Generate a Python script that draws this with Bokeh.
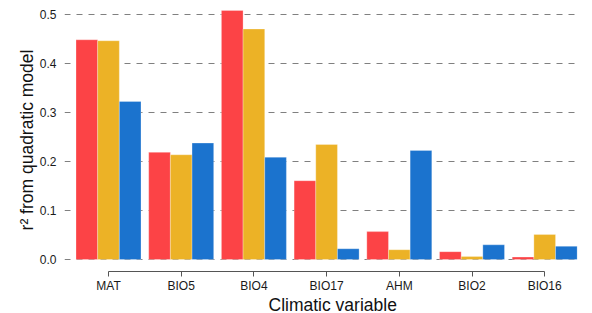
from bokeh.plotting import figure
from bokeh.models import ColumnDataSource, Range1d, FixedTicker, PrintfTickFormatter, Title
from bokeh.transform import dodge
from bokeh.embed import file_html
from bokeh.resources import INLINE

# ---- data ----
categories = ["MAT", "BIO5", "BIO4", "BIO17", "AHM", "BIO2", "BIO16"]
series_red = [0.449, 0.219, 0.509, 0.161, 0.057, 0.016, 0.005]
series_yellow = [0.447, 0.214, 0.471, 0.235, 0.020, 0.006, 0.051]
series_blue = [0.323, 0.238, 0.209, 0.022, 0.223, 0.030, 0.027]
y_ticks = [0.0, 0.1, 0.2, 0.3, 0.4, 0.5]

positions = list(range(1, len(categories) + 1))
source = ColumnDataSource(dict(x=positions, red=series_red, yellow=series_yellow, blue=series_blue))

FONT = "Liberation Sans"
BW = 0.298

p = figure(width=592, height=313, output_backend="svg", toolbar_location=None,
           x_range=Range1d(0.3948, 7.451), y_range=Range1d(-0.0245, 0.5129),
           min_border_left=64, min_border_right=15, min_border_top=8, min_border_bottom=42)
p.outline_line_color = None
p.background_fill_color = "white"
p.border_fill_color = "white"

for col, color, off in [("red", "#FC4346", -BW), ("yellow", "#ECB226", 0.0), ("blue", "#1B73CE", BW)]:
    p.vbar(x=dodge("x", off), top=col, bottom=0, width=BW, source=source,
           fill_color=color, line_color="white", line_alpha=0.35, line_width=0.8)

# grid
p.xgrid.grid_line_color = None
p.ygrid.ticker = FixedTicker(ticks=y_ticks)
p.ygrid.grid_line_color = "#808080"
p.ygrid.grid_line_dash = "6 6"
p.ygrid.grid_line_width = 1

# y axis
ya = p.yaxis[0]
ya.ticker = FixedTicker(ticks=y_ticks)
ya.formatter = PrintfTickFormatter(format="%.1f")
ya.axis_line_color = None
ya.major_tick_line_color = None
ya.minor_tick_line_color = None
ya.major_tick_out = 0
ya.major_tick_in = 0
ya.major_label_standoff = 8
ya.major_label_text_font = FONT
ya.major_label_text_font_size = "12px"
ya.major_label_text_color = "#1a1a1a"
ya.axis_label = "r² from quadratic model"
ya.axis_label_text_font = FONT
ya.axis_label_text_font_size = "17.5px"
ya.axis_label_text_font_style = "normal"
ya.axis_label_text_color = "#111111"
ya.axis_label_standoff = 0

# x axis
xa = p.xaxis[0]
xa.ticker = FixedTicker(ticks=positions)
xa.major_label_overrides = {pos: cat for pos, cat in zip(positions, categories)}
xa.bounds = (positions[0], positions[-1])
xa.axis_line_color = "#555555"
xa.major_tick_line_color = "#555555"
xa.minor_tick_line_color = None
xa.major_tick_out = 5
xa.major_tick_in = 0
xa.major_label_standoff = 2
xa.major_label_text_font = FONT
xa.major_label_text_font_size = "12px"
xa.major_label_text_color = "#1a1a1a"

xtitle = Title(text="Climatic variable", align="left", offset=204, standoff=-4,
               vertical_align="middle",
               text_font=FONT, text_font_size="17.5px", text_font_style="normal",
               text_color="#111111")
p.add_layout(xtitle, "below")

open("out.html", "w").write(file_html(p, INLINE))
